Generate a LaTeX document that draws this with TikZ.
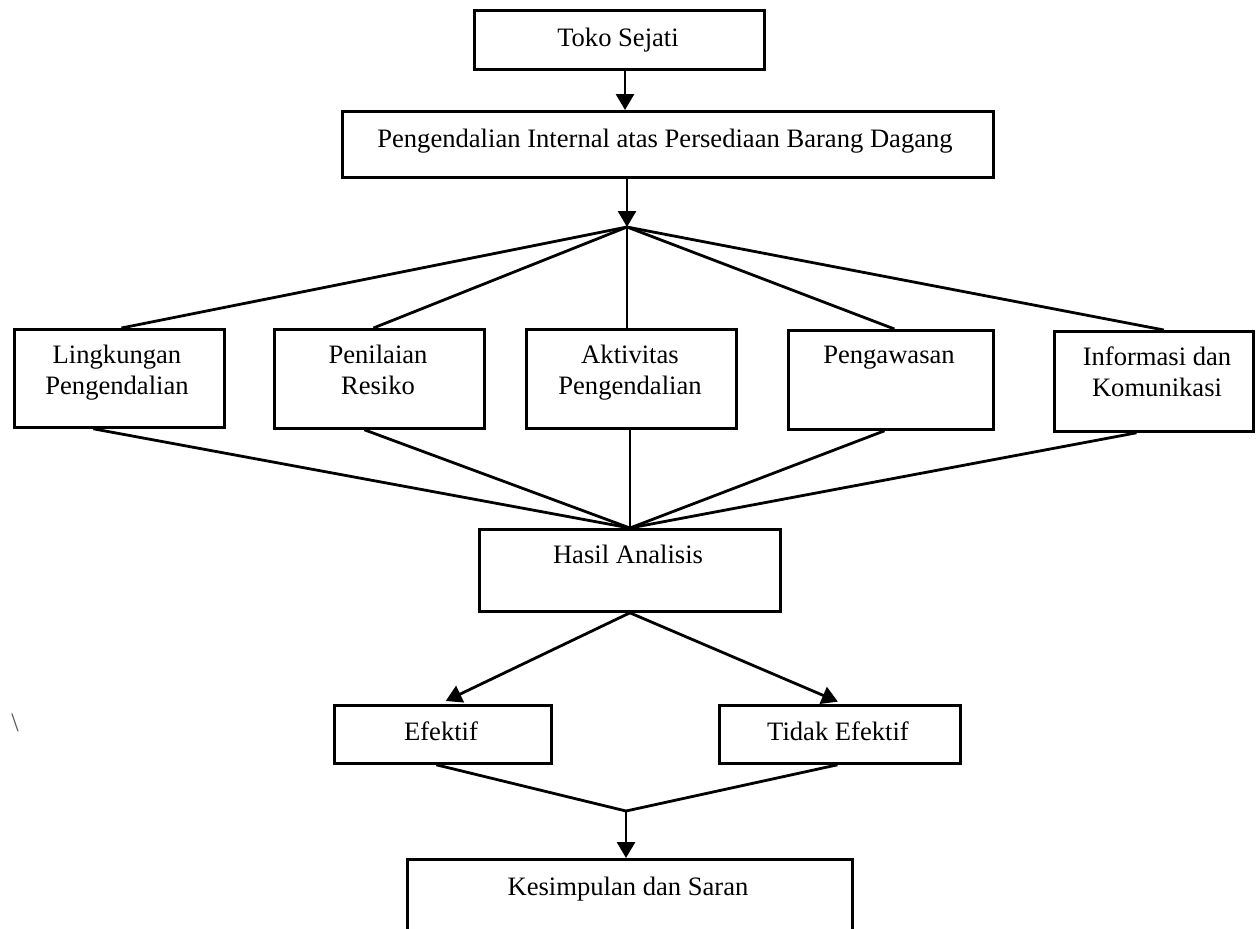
\documentclass[tikz,border=0pt]{standalone}
\usepackage{fontspec}
\setmainfont{Liberation Serif}
\usetikzlibrary{arrows.meta}
\tikzset{
  box/.style={draw=black, line width=1.4pt, rectangle, inner sep=0pt, anchor=north west},
  txt/.style={anchor=base, inner sep=0pt, font=\fontsize{13.3}{15.8}\selectfont},
  conn/.style={draw=black, line width=1.4pt},
  arr/.style={conn, -{Triangle[width=9pt,length=8pt]}},
}
\newcommand{\twol}[2]{\begin{tabular}[t]{@{}c@{}}#1\\#2\end{tabular}}
\begin{document}
\begin{tikzpicture}[x=0.5pt,y=-0.5pt]
\useasboundingbox (0,0) rectangle (1256,928);
\clip (0,0) rectangle (1256,928);
\fill[white] (0,0) rectangle (1256,928);
% boxes
\node[box, minimum width=145pt, minimum height=29.5pt] (toko) at (473,9) {};
\node[box, minimum width=325.5pt, minimum height=33pt] (peng) at (341,110) {};
\node[box, minimum width=105pt, minimum height=49pt] (ling) at (13,328) {};
\node[box, minimum width=105pt, minimum height=49.5pt] (peni) at (273,328) {};
\node[box, minimum width=105pt, minimum height=49.5pt] (akti) at (525,328) {};
\node[box, minimum width=102.5pt, minimum height=49.5pt] (pengaw) at (787,329) {};
\node[box, minimum width=99.5pt, minimum height=50pt] (info) at (1053,330) {};
\node[box, minimum width=150.5pt, minimum height=41pt] (hasil) at (478,528) {};
\node[box, minimum width=108.5pt, minimum height=29pt] (efek) at (333,704) {};
\node[box, minimum width=120.5pt, minimum height=29pt] (tidak) at (718,704) {};
\node[box, minimum width=222.5pt, minimum height=50pt] (kes) at (406,858) {};
% texts
\node[txt] (tokoT) at (618,46) {Toko Sejati};
\node[txt] (pengT) at (665,147) {Pengendalian Internal atas Persediaan Barang Dagang};
\node[txt] (lingT) at (117,363) {\twol{Lingkungan}{Pengendalian}};
\node[txt] (peniT) at (378,363) {\twol{Penilaian}{Resiko}};
\node[txt] (aktiT) at (630,363) {\twol{Aktivitas}{Pengendalian}};
\node[txt] (pengawT) at (889,363) {Pengawasan};
\node[txt] (infoT) at (1157,365) {\twol{Informasi dan}{Komunikasi}};
\node[txt] (hasilT) at (628,563) {Hasil Analisis};
\node[txt] (efekT) at (441,740) {Efektif};
\node[txt] (tidakT) at (838,740) {Tidak Efektif};
\node[txt] (kesT) at (628,895) {Kesimpulan dan Saran};
\node[txt, text=black!65] (bs) at (15,731) {\textbackslash};
% junctions
\coordinate (j1) at (627,227);
\coordinate (j2) at (626,811);
% connectors
\draw[arr] (toko.south -| 625,0) -- (peng.north -| 625,0);
\draw[arr] (peng.south -| j1) -- (j1);
\draw[conn] (j1) -- ([xshift=1pt]ling.north);
\draw[conn] (j1) -- ([xshift=-3pt]peni.north);
\draw[conn] (j1) -- (akti.north -| j1);
\draw[conn] (j1) -- ([xshift=1.75pt]pengaw.north);
\draw[conn] (j1) -- ([xshift=5pt]info.north);
\draw[conn] ([xshift=-13pt]ling.south) -- (hasil.north);
\draw[conn] ([xshift=-7.5pt]peni.south) -- (hasil.north);
\draw[conn] (akti.south -| hasil.north) -- (hasil.north);
\draw[conn] ([xshift=-3.25pt]pengaw.south) -- (hasil.north);
\draw[conn] ([xshift=-8.75pt]info.south) -- (hasil.north);
\draw[arr, shorten >=3.5pt] (hasil.south) -- ([xshift=-1.75pt]efek.north);
\draw[arr, shorten >=3pt] (hasil.south) -- ([xshift=1.75pt]tidak.north);
\draw[conn] ([xshift=-3.25pt]efek.south) -- (j2);
\draw[conn] ([xshift=-1.25pt]tidak.south) -- (j2);
\draw[arr] (j2) -- (kes.north -| j2);
\end{tikzpicture}
\end{document}
